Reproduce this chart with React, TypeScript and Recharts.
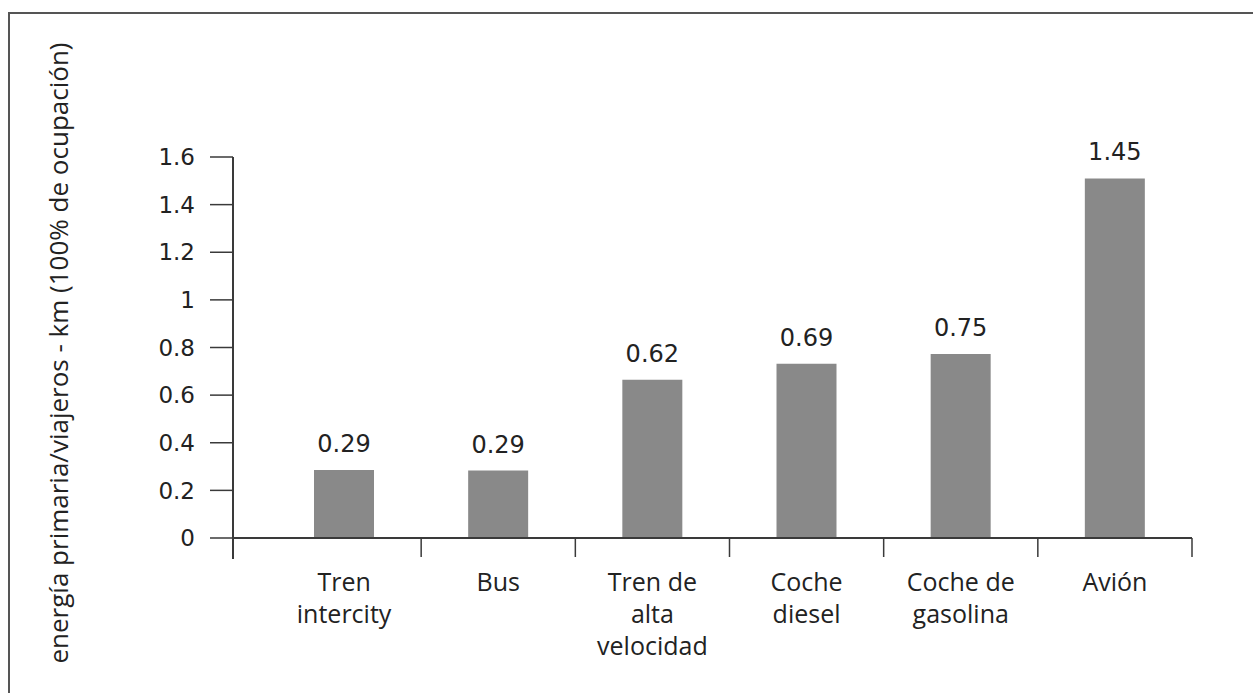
import React from "react";
import { BarChart, Bar, XAxis, YAxis, LabelList, Label } from "recharts";

// ---- data ----
const CATEGORIES = [
  "Tren\nintercity",
  "Bus",
  "Tren de\nalta\nvelocidad",
  "Coche\ndiesel",
  "Coche de\ngasolina",
  "Avión",
];
// bar heights as drawn in the picture
const VALUES = [0.286, 0.283, 0.665, 0.732, 0.773, 1.51];
// printed value labels
const VALUE_LABELS = ["0.29", "0.29", "0.62", "0.69", "0.75", "1.45"];
const Y_TICKS = [0, 0.2, 0.4, 0.6, 0.8, 1, 1.2, 1.4, 1.6];
const Y_TITLE = "energía primaria/viajeros - km (100% de ocupación)";

const rows = CATEGORIES.map((c, i) => ({
  name: c,
  value: VALUES[i],
  label: VALUE_LABELS[i],
}));

// ---- layout ----
const W = 1253;
const H = 693;
const MARGIN = { top: 157, right: 61, bottom: 55, left: 0 };
const Y_AXIS_W = 233;
const X_AXIS_H = 100;
const PAD_LEFT = 34;
const PLOT_W = W - MARGIN.left - MARGIN.right - Y_AXIS_W;
const BAND = (PLOT_W - PAD_LEFT) / CATEGORIES.length;
const HALF = BAND / 2;
const AXIS = "#3a3a3a";
const TEXT = "#222";
const SANS = "'Open Sans', 'DejaVu Sans', sans-serif";
const NUM = "'DejaVu Sans', sans-serif";

const XTick = (props: any) => {
  const { x, y, payload, index } = props;
  const lines = String(payload.value).split("\n");
  return (
    <g>
      <line x1={x + HALF} x2={x + HALF} y1={y} y2={y + 19} stroke={AXIS} strokeWidth={1.5} />
      {index === 0 && (
        <line
          x1={x - HALF - PAD_LEFT}
          x2={x - HALF - PAD_LEFT}
          y1={y}
          y2={y + 21}
          stroke={AXIS}
          strokeWidth={2}
        />
      )}
      <text x={x} y={y + 53} textAnchor="middle" fill={TEXT} fontSize={25} fontWeight={500} fontFamily={SANS}>
        {lines.map((l, i) => (
          <tspan key={i} x={x} dy={i === 0 ? 0 : 32}>
            {l}
          </tspan>
        ))}
      </text>
    </g>
  );
};

const TitleLabel = () => {
  const cx = 68;
  const cy = 353;
  return (
    <text
      x={cx}
      y={cy}
      textAnchor="middle"
      transform={`rotate(-90, ${cx}, ${cy})`}
      fill={TEXT}
      fontSize={26}
      fontWeight={500}
      fontFamily={SANS}
    >
      {Y_TITLE}
    </text>
  );
};

export default function App() {
  return (
    <div style={{ position: "absolute", left: 0, top: 0, width: W, height: H, overflow: "hidden", background: "#fff" }}>
      <div
        style={{
          position: "absolute",
          left: 8,
          top: 12,
          width: W + 20,
          height: H + 20,
          borderLeft: "2px solid #555",
          borderTop: "2px solid #555",
        }}
      />
      <div style={{ position: "absolute", left: 0, top: 0 }}>
        <BarChart width={W} height={H} data={rows} margin={MARGIN}>
          <XAxis
            dataKey="name"
            type="category"
            height={X_AXIS_H}
            padding={{ left: PAD_LEFT, right: 0 }}
            interval={0}
            tickLine={false}
            tickSize={0}
            tickMargin={0}
            axisLine={{ stroke: AXIS, strokeWidth: 2 }}
            tick={<XTick />}
          />
          <YAxis
            width={Y_AXIS_W}
            domain={[0, 1.6]}
            ticks={Y_TICKS}
            interval={0}
            tickSize={23}
            tickMargin={15}
            axisLine={{ stroke: AXIS, strokeWidth: 2 }}
            tickLine={{ stroke: AXIS, strokeWidth: 1.5 }}
            tick={{ fill: TEXT, fontSize: 23, fontFamily: NUM }}
          >
            <Label content={<TitleLabel />} />
          </YAxis>
          <Bar dataKey="value" fill="#898989" barSize={60} isAnimationActive={false}>
            <LabelList
              dataKey="label"
              position="top"
              offset={18}
              fill={TEXT}
              fontSize={24}
              fontFamily={NUM}
            />
          </Bar>
        </BarChart>
      </div>
    </div>
  );
}
